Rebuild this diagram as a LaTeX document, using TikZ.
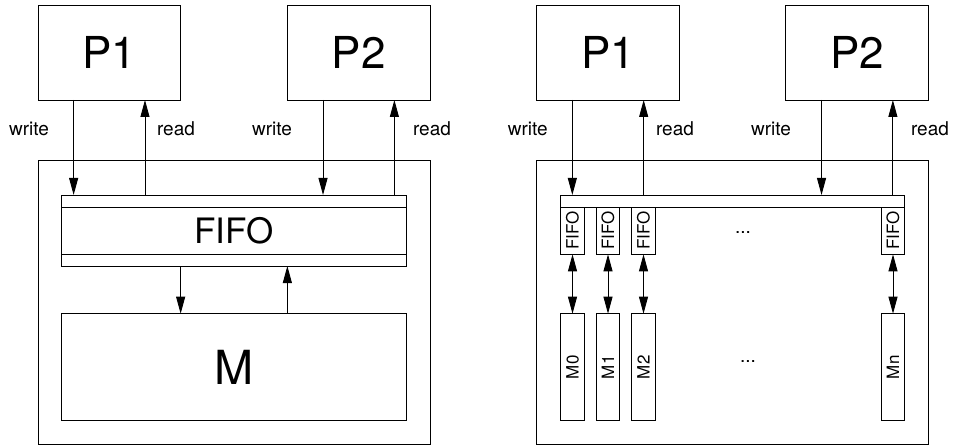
\documentclass[tikz,border=0pt]{standalone}
\usepackage{fontspec}
\setmainfont{TeX Gyre Heros}
\usetikzlibrary{arrows.meta,calc}
\tikzset{
  box/.style={draw, line width=0.9pt, inner sep=0pt, outer sep=0pt},
  proc/.style={box, minimum width=142.7pt, minimum height=95pt, font=\fontsize{44}{44}\selectfont},
  lbl/.style={font=\fontsize{19}{19}\selectfont},
  tinybox/.style={box, minimum width=23.7pt},
  tip/.tip={Triangle[length=17pt,width=9pt]},
  arr/.style={line width=0.9pt, -tip},
  darr/.style={line width=0.9pt, tip-tip}
}
\begin{document}
\begin{tikzpicture}[x=1pt, y=1pt]
      \useasboundingbox (0, 0) rectangle (955, 445);
      % left: one shared FIFO
      \node (p1l) [proc] at (109.3, 392.5) {P1};
      \node (p2l) [proc] at (358.7, 392.5) {P2};
      \node (outl) [box, minimum width=392pt, minimum height=284.3pt] at (234, 142.8) {};
      \node (fifol) [box, minimum width=344.3pt, minimum height=71pt, font=\fontsize{35}{35}\selectfont] at (233.8, 214.5) {FIFO};
      \node (ml) [box, minimum width=344.3pt, minimum height=107pt, font=\fontsize{47}{47}\selectfont] at (233.8, 77.8) {M};
      \draw [line width=0.9pt] ($(fifol.north west)+(0,-12)$) -- ($(fifol.north east)+(0,-12)$)
                               ($(fifol.south west)+(0,11.5)$) -- ($(fifol.south east)+(0,11.5)$);
      \coordinate (w1l) at ($(p1l.south west)!.25!(p1l.south east)$);
      \coordinate (r1l) at ($(p1l.south west)!.75!(p1l.south east)$);
      \coordinate (w2l) at ($(p2l.south west)!.25!(p2l.south east)$);
      \coordinate (r2l) at ($(p2l.south west)!.75!(p2l.south east)$);
      \draw [arr] (w1l) -- (w1l |- fifol.north);
      \draw [arr] (r1l |- fifol.north) -- (r1l);
      \draw [arr] (w2l) -- (w2l |- fifol.north);
      \draw [arr] (r2l |- fifol.north) -- (r2l);
      \draw [arr] (p1l.south east |- fifol.south) -- (p1l.south east |- ml.north);
      \draw [arr] (p2l.south west |- ml.north) -- (p2l.south west |- fifol.south);
      \node [lbl] at (29, 316) {write};
      \node [lbl] at (176, 316) {read};
      \node [lbl] at (272, 316) {write};
      \node [lbl] at (432, 316) {read};
      % right: one FIFO per memory bank
      \node (p1r) [proc] at (608, 392.5) {P1};
      \node (p2r) [proc] at (857.2, 392.5) {P2};
      \node (outr) [box, minimum width=391.6pt, minimum height=284.3pt] at (732.5, 142.8) {};
      \node (bus) [box, minimum width=344pt, minimum height=12pt] at (732.7, 244) {};
      \foreach \i/\x in {0/572.5, 1/608, 2/643.5, n/893} {
        \node (f\i) [tinybox, minimum height=47.3pt, label={[rotate=90, font=\fontsize{17}{17}\selectfont]center:FIFO}] at (\x, 214.3) {};
        \node (m\i) [tinybox, minimum height=107pt, label={[rotate=90, font=\fontsize{17}{17}\selectfont]center:M\i}] at (\x, 77.8) {};
        \draw [darr] (f\i.south) -- (m\i.north);
      }
      \coordinate (w1r) at ($(p1r.south west)!.25!(p1r.south east)$);
      \coordinate (r1r) at ($(p1r.south west)!.75!(p1r.south east)$);
      \coordinate (w2r) at ($(p2r.south west)!.25!(p2r.south east)$);
      \coordinate (r2r) at ($(p2r.south west)!.75!(p2r.south east)$);
      \draw [arr] (w1r) -- (w1r |- bus.north);
      \draw [arr] (r1r |- bus.north) -- (r1r);
      \draw [arr] (w2r) -- (w2r |- bus.north);
      \draw [arr] (r2r |- bus.north) -- (r2r);
      \node [lbl] at (527.7, 316) {write};
      \node [lbl] at (675, 316) {read};
      \node [lbl] at (771, 316) {write};
      \node [lbl] at (930, 316) {read};
      \node (dotsf) [lbl] at (743, 212) {...};
      \node (dotsm) [lbl] at (748, 83) {...};
\end{tikzpicture}
\end{document}
